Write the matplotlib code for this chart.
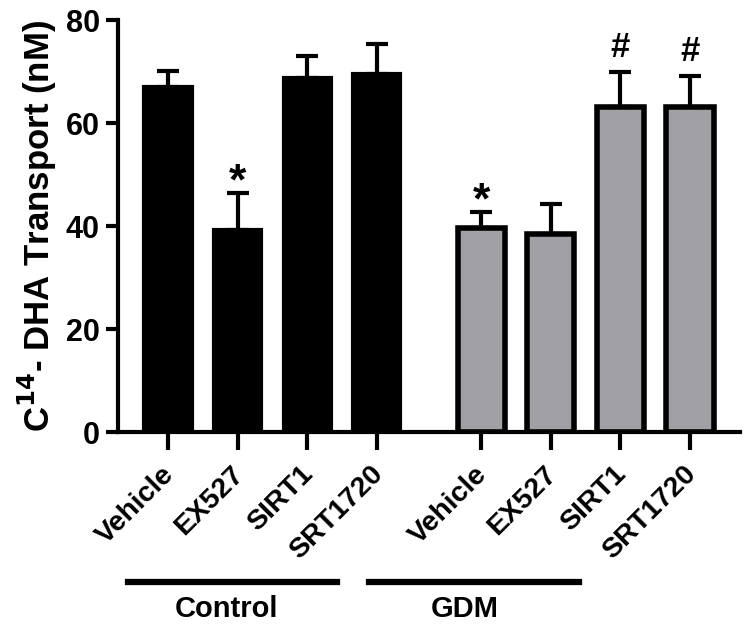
import matplotlib.pyplot as plt
import matplotlib.transforms as mtransforms

plt.rcParams['font.family'] = ['Liberation Sans', 'DejaVu Sans']
plt.rcParams['font.weight'] = 'bold'

# data
treatments = ['Vehicle', 'EX527', 'SIRT1', 'SRT1720']
control_mean = [67.0, 39.3, 68.8, 69.5]
control_err = [3.2, 7.1, 4.2, 5.8]
gdm_mean = [39.6, 38.4, 63.1, 63.1]
gdm_err = [3.1, 5.9, 6.8, 6.1]
control_marks = ['', '*', '', '']
gdm_marks = ['*', '', '#', '#']
groups = ['Control', 'GDM']

fig = plt.figure(figsize=(7.49, 6.33), dpi=100)
ax = fig.add_axes([0.1575, 0.3175, 0.8305, 0.6505])

x_ctrl = [0, 1, 2, 3]
x_gdm = [4.5, 5.5, 6.5, 7.5]
w = 0.68

ax.bar(x_ctrl, control_mean, width=w, color='black', edgecolor='black', linewidth=3, zorder=2)
ax.bar(x_gdm, gdm_mean, width=w, color='#a1a1a5', edgecolor='black', linewidth=4, zorder=2)

for xs, m, e in [(x_ctrl, control_mean, control_err), (x_gdm, gdm_mean, gdm_err)]:
    ax.errorbar(xs, m, yerr=[[0]*len(e), e], fmt='none', ecolor='black',
                elinewidth=3, capsize=8, capthick=3, zorder=1)

for xs, m, e, marks in [(x_ctrl, control_mean, control_err, control_marks),
                         (x_gdm, gdm_mean, gdm_err, gdm_marks)]:
    for xi, mi, ei, mk in zip(xs, m, e, marks):
        if mk == '*':
            ax.annotate(mk, (xi, mi + ei), xytext=(0, -7), textcoords='offset points',
                        ha='center', va='bottom', fontsize=32, fontweight='bold')
        elif mk:
            ax.annotate(mk, (xi, mi + ei), xytext=(0, 6), textcoords='offset points',
                        ha='center', va='bottom', fontsize=25, fontweight='heavy')

ax.set_ylim(0, 80)
ax.set_yticks([0, 20, 40, 60, 80])
ax.set_xlim(-0.72, 8.22)
ax.set_xticks(x_ctrl + x_gdm)
ax.set_xticklabels(treatments + treatments, rotation=45, ha='right', va='top',
                   rotation_mode='anchor', fontsize=20.5, fontweight='bold')
ax.tick_params(axis='y', labelsize=22, width=3, length=9, pad=4)
ax.tick_params(axis='x', width=3, length=13, pad=8)
for lab in ax.get_xticklabels():
    lab.set_transform(lab.get_transform() + mtransforms.ScaledTranslation(-5 / 72, 0, fig.dpi_scale_trans))
for lab in ax.get_yticklabels():
    lab.set_fontweight('bold')

ax.spines['top'].set_visible(False)
ax.spines['right'].set_visible(False)
ax.spines['left'].set_linewidth(3)
ax.spines['bottom'].set_linewidth(3)

ax.set_ylabel('C$^{\\mathbf{14}}$- DHA Transport (nM)', fontsize=25, fontweight='bold', labelpad=5)

# group bars under the labels
trans = mtransforms.blended_transform_factory(ax.transData, ax.transAxes)
line_spans = [(-0.57, 2.43), (2.89, 5.9)]
text_x = [0.84, 4.27]
for (a, b), tx, g in zip(line_spans, text_x, groups):
    ax.plot([a, b], [-0.364, -0.364], color='black', linewidth=4.5, transform=trans, clip_on=False)
    ax.text(tx, -0.43, g, transform=trans, ha='center', va='center', fontsize=21, fontweight='bold')

fig.savefig('out.png', dpi=100)
